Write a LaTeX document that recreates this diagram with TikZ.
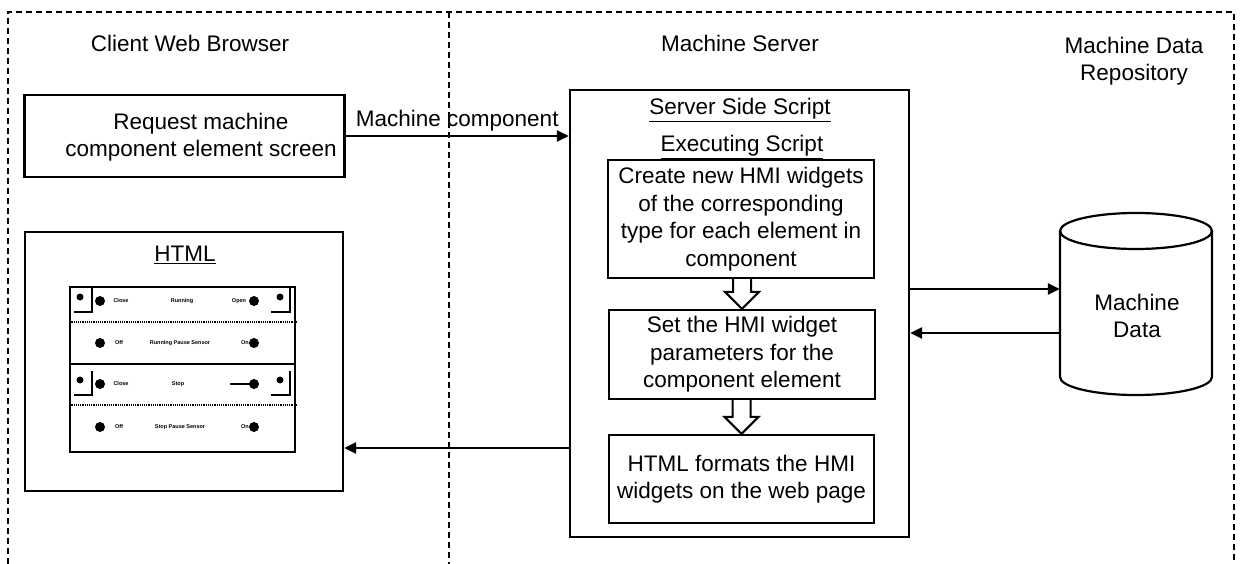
\documentclass[tikz,border=0pt]{standalone}
\usepackage{fontspec}
\setmainfont{Liberation Sans}
\usetikzlibrary{arrows.meta, calc}

% open block arrow pointing down, from the bottom of #1 to the top of #2
\newcommand{\hollowdown}[2]{%
    \draw[hollow] ($(#2 |- #1)+(-9,0)$) -- ($(#2)+(-9,-17)$) -- ($(#2)+(-17,-17)$)
        -- (#2) -- ($(#2)+(17,-17)$) -- ($(#2)+(9,-17)$) -- ($(#2 |- #1)+(9,0)$);
}

\begin{document}
\begin{tikzpicture}[
    x=1pt, y=-1pt,
    font=\fontsize{22.5}{27.5}\selectfont,
    lane/.style={line width=1.2pt, dash pattern=on 6pt off 4pt},
    box/.style={
        rectangle, draw, line width=2.2pt,
        inner sep=0pt, align=center,
    },
    txt/.style={align=center},
    arrow/.style={-{Triangle[length=12pt, width=11pt]}, line width=2.4pt},
    hollow/.style={line width=2pt, line join=miter},
    widget/.style={font=\fontsize{5.5}{6}\selectfont\bfseries, inner sep=0pt},
]
\useasboundingbox (0,0) rectangle (1240,564);

% =================================================
% Lanes
% =================================================
\draw[lane] (8,564) -- (8,12) -- (1234,12) -- (1234,564);
\draw[lane] (449,12) -- (449,564);

\node[txt] (client) at (190,43)  {Client Web Browser};
\node[txt] (server) at (740,43)  {Machine Server};
\node[txt] (repo)   at (1134,61) {Machine Data\\Repository};

% =================================================
% Client side
% =================================================
\node[box, minimum width=320, minimum height=82] (req) at (184.5,136) {};
\node[txt] (reqtxt) at (201,137) {Request machine\\component element screen};

\node[box, minimum width=318, minimum height=259] (html) at (184,361.5) {};
\node[txt] (htmltitle) at (185,255) {\underline{HTML}};

% rendered page with the widget rows
\node[draw, line width=1.8pt, minimum width=225, minimum height=165, inner sep=0pt]
    (panel) at (182.5,369.5) {};
\draw[densely dotted, line width=1.2pt] (panel.west |- 0,322) -- (panel.east |- 0,322);
\draw[line width=1.5pt]                 (panel.west |- 0,364) -- (panel.east |- 0,364);
\draw[densely dotted, line width=1.2pt] (panel.west |- 0,405) -- (panel.east |- 0,405);

\foreach \ry in {301,343,384,427} {
    \fill (100,\ry) circle[radius=5];
    \fill (254,\ry) circle[radius=5];
}
\foreach \ry in {301,384} {
    \fill (80,\ry-4) circle[radius=3.5];
    \draw[line width=2pt] (74,\ry+11) -- (92,\ry+11) -- (92,\ry-13);
    \fill (280,\ry-4) circle[radius=3.5];
    \draw[line width=2pt] (271,\ry+11) -- (290,\ry+11) -- (290,\ry-13);
    \node[widget] (close\ry) at (121,\ry) {Close};
}
\foreach \ry in {343,427} {
    \node[widget] (off\ry) at (119,\ry) {Off};
    \node[widget] (on\ry)  at (245,\ry) {On};
}
\node[widget] (run)      at (182,301) {Running};
\node[widget] (open)     at (239,301) {Open};
\node[widget] (runpause) at (180,343) {Running Pause Sensor};
\node[widget] (stop)     at (178,384) {Stop};
\draw[line width=1.8pt] (230,384) -- (254,384);
\node[widget] (stoppause) at (180,427) {Stop Pause Sensor};

% =================================================
% Server side script
% =================================================
\node[box, minimum width=339, minimum height=447] (srv) at (739.5,313.5) {};
\node[txt] (sss) at (740,110) {\underline{Server Side Script}};
\node[txt] (exs) at (742,147) {\underline{Executing Script}};

\node[box, minimum width=266, minimum height=118] (create) at (741,219)
    {Create new HMI widgets\\of the corresponding\\type for each element in\\component};
\node[box, minimum width=266, minimum height=89] (setpar) at (742,354.5)
    {Set the HMI widget\\parameters for the\\component element};
\node[box, minimum width=265, minimum height=88] (fmt) at (741.5,479)
    {HTML formats the HMI\\widgets on the web page};

\hollowdown{create.south}{setpar.north}
\hollowdown{setpar.south}{fmt.north}

% =================================================
% Data repository
% =================================================
\node[minimum width=152, minimum height=182, inner sep=0pt] (db) at (1136,304) {};
\draw[line width=2.2pt] (1060,231) -- (1060,377)
    arc[start angle=180, end angle=0, x radius=76, y radius=18] -- (1212,231);
\draw[line width=2.2pt] (1136,231) ellipse[x radius=76, y radius=18];
\node[txt] (dbtxt) at (1137,316) {Machine\\Data};

% =================================================
% Flow arrows
% =================================================
\draw[arrow] (req.east) -- (req.east -| srv.west)
    node[midway, above=0pt] (mclabel) {Machine component};
\draw[arrow] (srv.west |- 0,448) -- (html.east |- 0,448);
\draw[arrow] (srv.east |- 0,289) -- (db.west |- 0,289);
\draw[arrow] (db.west |- 0,333)  -- (srv.east |- 0,333);

\end{tikzpicture}
\end{document}
